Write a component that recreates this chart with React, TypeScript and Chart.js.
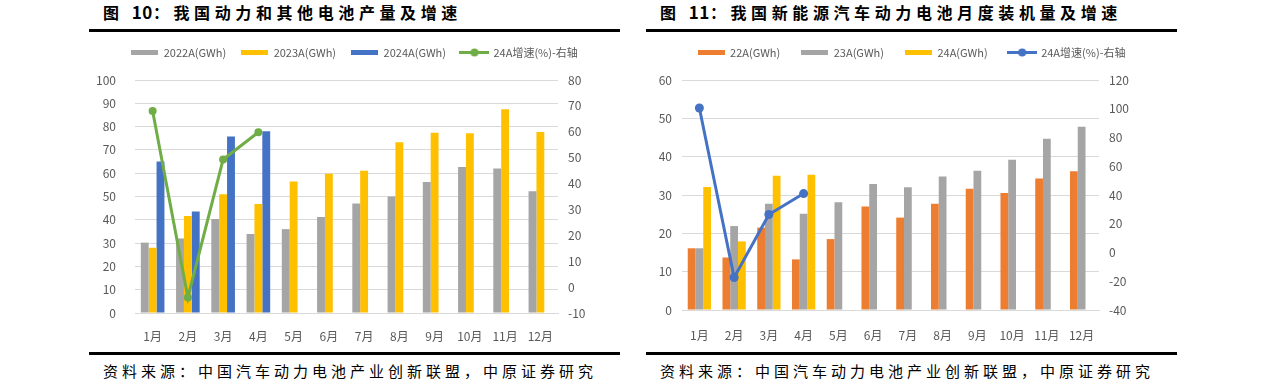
import React, { useEffect, useRef } from "react";
import { Chart, registerables } from "chart.js";

Chart.register(...registerables);

// ---------- data ----------
const months = ["1月", "2月", "3月", "4月", "5月", "6月", "7月", "8月", "9月", "10月", "11月", "12月"];

// Figure 10: production (GWh) and 2024 growth (%)
const prod2022 = [30.2, 32, 40.3, 33.9, 36, 41.2, 47, 50, 56.2, 62.7, 62, 52.2];
const prod2023 = [28, 41.6, 51, 46.8, 56.4, 59.8, 61, 73.3, 77.4, 77.1, 87.4, 77.7];
const prod2024 = [65, 43.6, 75.7, 78];
const prodGrowth24 = [68, -4, 49.3, 59.8];

// Figure 11: installed capacity (GWh) and 2024 growth (%)
const inst22 = [16.1, 13.7, 21.5, 13.2, 18.5, 27, 24.1, 27.7, 31.6, 30.5, 34.3, 36.2];
const inst23 = [16.1, 21.9, 27.7, 25.1, 28.1, 32.9, 32.0, 34.8, 36.3, 39.2, 44.7, 47.8];
const inst24 = [32.1, 17.9, 35, 35.3];
const instGrowth24 = [100.5, -17.4, 26.4, 41];

const labels10 = ["2022A(GWh)", "2023A(GWh)", "2024A(GWh)", "24A增速(%)-右轴"];
const labels11 = ["22A(GWh)", "23A(GWh)", "24A(GWh)", "24A增速(%)-右轴"];

const title10 = ["图 ", "10", "：我国动力和其他电池产量及增速"];
const title11 = ["图 ", "11", "：我国新能源汽车动力电池月度装机量及增速"];
const sourceText = "资料来源：中国汽车动力电池产业创新联盟，中原证券研究";

// ---------- styles ----------
const GRAY = "#a5a5a5";
const YELLOW = "#ffc000";
const BLUE = "#4472c4";
const ORANGE = "#ed7d31";
const GREEN = "#70ad47";
const TEXT = "#595959";
const GRID = "#d9d9d9";
const FONT = "'Noto Sans CJK SC', 'Noto Sans', sans-serif";

function boxImg(color: string) {
  const c = document.createElement("canvas");
  c.width = 27;
  c.height = 5;
  const ctx = c.getContext("2d")!;
  ctx.fillStyle = color;
  ctx.fillRect(0, 0, 27, 5);
  return c;
}
function lineImg(color: string) {
  const c = document.createElement("canvas");
  c.width = 30;
  c.height = 9;
  const ctx = c.getContext("2d")!;
  ctx.fillStyle = color;
  ctx.fillRect(0, 3, 30, 3);
  ctx.beginPath();
  ctx.arc(15, 4.5, 4, 0, Math.PI * 2);
  ctx.fill();
  return c;
}

type Spec = {
  labels: string[];
  bars: { label: string; data: number[]; color: string }[];
  line: { label: string; data: number[]; color: string; radius: number };
  y: { min: number; max: number; step: number; width: number; pad: number };
  y1: { min: number; max: number; step: number; width: number; pad: number };
  legendPad: number;
  xHeight: number;
  xPad: number;
};

const LEGEND_GAP = 12;

function ComboChart({ spec, width, height }: { spec: Spec; width: number; height: number }) {
  const ref = useRef<HTMLCanvasElement | null>(null);
  useEffect(() => {
    if (!ref.current) return;
    const imgs: any[] = [
      ...spec.bars.map((b) => boxImg(b.color)),
      lineImg(spec.line.color),
    ];
    const legendGap = {
      id: "legendGap",
      afterInit(chart: any) {
        const lg = chart.legend;
        if (!lg) return;
        const orig = lg.fit.bind(lg);
        lg.fit = function () {
          orig();
          this.height += LEGEND_GAP;
        };
      },
    };
    const chart = new Chart(ref.current, {
      type: "bar",
      data: {
        labels: spec.labels,
        datasets: [
          ...spec.bars.map((b) => ({
            type: "bar" as const,
            label: b.label,
            data: b.data,
            backgroundColor: b.color,
            borderWidth: 0,
            barPercentage: 1,
            categoryPercentage: 0.67,
            yAxisID: "y",
            order: 1,
          })),
          {
            type: "line" as const,
            label: spec.line.label,
            data: spec.line.data,
            borderColor: spec.line.color,
            backgroundColor: spec.line.color,
            borderWidth: 3,
            pointRadius: spec.line.radius,
            pointBackgroundColor: spec.line.color,
            pointBorderWidth: 0,
            tension: 0,
            yAxisID: "y1",
            order: 0,
          },
        ] as any,
      },
      plugins: [legendGap],
      options: {
        responsive: false,
        animation: false,
        events: [],
        layout: { padding: { top: 13 - spec.legendPad, left: 0, right: 0, bottom: 0 } },
        plugins: {
          tooltip: { enabled: false },
          title: { display: false },
          legend: {
            display: true,
            position: "top",
            labels: {
              usePointStyle: true,
              pointStyleWidth: 27,
              padding: spec.legendPad,
              color: TEXT,
              font: { family: FONT, size: 11 },
              generateLabels: (ch: any) => {
                const items = (Chart.defaults.plugins.legend.labels as any).generateLabels(ch);
                items.forEach((it: any) => {
                  it.pointStyle = imgs[it.datasetIndex];
                  it.fontColor = TEXT;
                });
                return items.sort((a: any, b: any) => a.datasetIndex - b.datasetIndex);
              },
            },
          },
        },
        scales: {
          x: {
            offset: true,
            grid: { display: false },
            border: { display: true, color: GRID, width: 1 },
            ticks: { color: TEXT, font: { family: FONT, size: 12 }, padding: spec.xPad, maxRotation: 0, autoSkip: false },
            afterFit: (s: any) => {
              s.height = spec.xHeight;
            },
          },
          y: {
            position: "left",
            min: spec.y.min,
            max: spec.y.max,
            grid: { color: GRID, drawTicks: false, lineWidth: 1 },
            border: { display: false },
            ticks: { stepSize: spec.y.step, color: TEXT, font: { family: FONT, size: 12 }, padding: spec.y.pad },
            afterFit: (s: any) => {
              s.width = spec.y.width;
            },
          },
          y1: {
            position: "right",
            min: spec.y1.min,
            max: spec.y1.max,
            grid: { display: false, drawTicks: false },
            border: { display: false },
            ticks: { stepSize: spec.y1.step, color: TEXT, font: { family: FONT, size: 12 }, padding: spec.y1.pad },
            afterFit: (s: any) => {
              s.width = spec.y1.width;
            },
          },
        },
      } as any,
    });
    return () => chart.destroy();
  }, [spec, width, height]);
  return <canvas ref={ref} width={width} height={height} style={{ width, height, display: "block" }} />;
}

const spec10: Spec = {
  labels: months,
  bars: [
    { label: labels10[0], data: prod2022, color: GRAY },
    { label: labels10[1], data: prod2023, color: YELLOW },
    { label: labels10[2], data: prod2024, color: BLUE },
  ],
  line: { label: labels10[3], data: prodGrowth24, color: GREEN, radius: 4 },
  y: { min: 0, max: 100, step: 10, width: 46, pad: 19 },
  y1: { min: -10, max: 80, step: 10, width: 62, pad: 10 },
  legendPad: 15,
  xHeight: 33,
  xPad: 8,
};

const spec11: Spec = {
  labels: months,
  bars: [
    { label: labels11[0], data: inst22, color: ORANGE },
    { label: labels11[1], data: inst23, color: GRAY },
    { label: labels11[2], data: inst24, color: YELLOW },
  ],
  line: { label: labels11[3], data: instGrowth24, color: BLUE, radius: 4.5 },
  y: { min: 0, max: 60, step: 10, width: 36, pad: 10 },
  y1: { min: -40, max: 120, step: 20, width: 78, pad: 10 },
  legendPad: 21,
  xHeight: 36,
  xPad: 10,
};

function Panel({ left, title, spec }: { left: number; title: string[]; spec: Spec }) {
  return (
    <>
      <div
        style={{
          position: "absolute",
          left: left + 14,
          top: 0,
          fontFamily: FONT,
          fontWeight: 700,
          fontSize: 16,
          letterSpacing: 4.6,
          lineHeight: "24px",
          color: "#000",
          whiteSpace: "pre",
        }}
      >
        <span>{title[0]}</span>
        <span style={{ letterSpacing: 0.5, fontSize: 17 }}>{title[1]}</span>
        <span>{title[2]}</span>
      </div>
      <div style={{ position: "absolute", left, top: 29, width: 531, height: 3, background: "#000" }} />
      <div style={{ position: "absolute", left, top: 34 }}>
        <ComboChart spec={spec} width={531} height={312} />
      </div>
      <div style={{ position: "absolute", left, top: 352, width: 531, height: 3, background: "#000" }} />
      <div
        style={{
          position: "absolute",
          left: left + 14,
          top: 361,
          fontFamily: FONT,
          fontSize: 15,
          letterSpacing: 4,
          lineHeight: "20px",
          color: "#000",
          whiteSpace: "nowrap",
        }}
      >
        {sourceText}
      </div>
    </>
  );
}

export default function App() {
  return (
    <div
      style={{
        position: "absolute",
        left: 0,
        top: 0,
        width: 1266,
        height: 381,
        background: "#fff",
        overflow: "hidden",
      }}
    >
      <Panel left={89} title={title10} spec={spec10} />
      <Panel left={646} title={title11} spec={spec11} />
    </div>
  );
}
